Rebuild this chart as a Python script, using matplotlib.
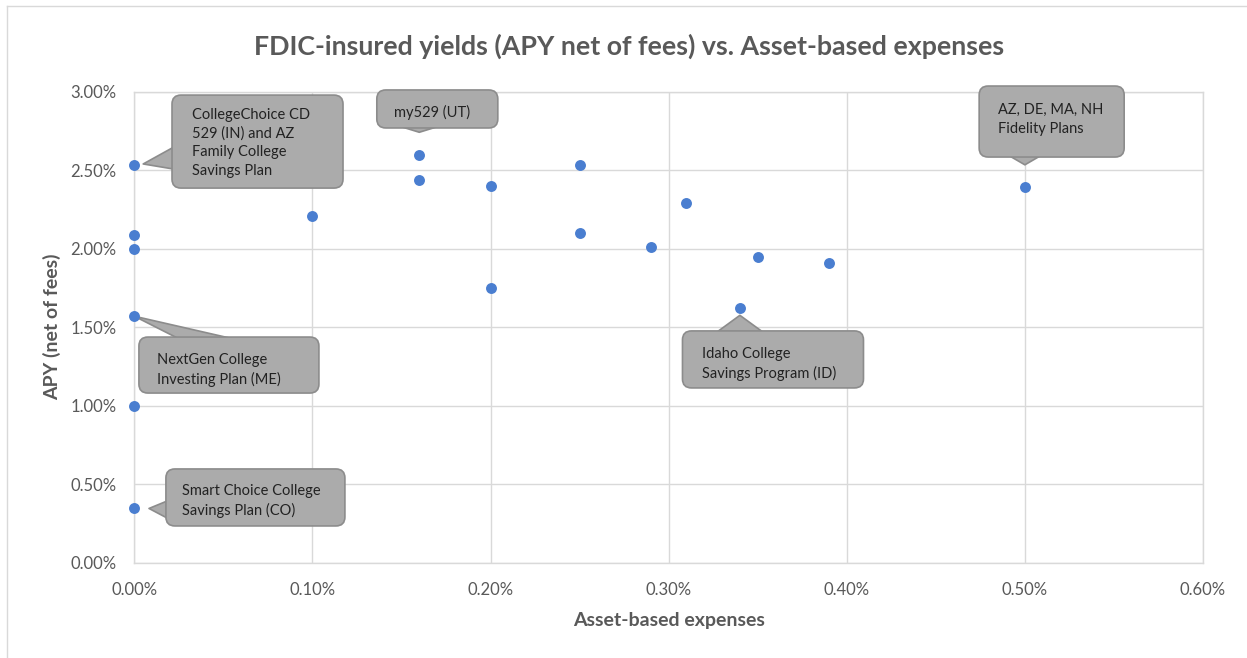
import matplotlib
matplotlib.use("Agg")
import matplotlib.pyplot as plt
from matplotlib.patches import BoxStyle, FancyArrowPatch
from matplotlib.lines import Line2D
from matplotlib.ticker import FuncFormatter, MultipleLocator

plt.rcParams['font.family'] = ['Lato', 'DejaVu Sans']

# asset-based expenses (%) and APY net of fees (%)
expenses = [0.00, 0.00, 0.00, 0.00, 0.00, 0.00, 0.10, 0.16, 0.16, 0.20,
            0.20, 0.25, 0.25, 0.29, 0.31, 0.34, 0.35, 0.39, 0.50]
apy = [2.53, 2.09, 2.00, 1.57, 1.00, 0.35, 2.21, 2.60, 2.44, 2.40,
       1.75, 2.53, 2.10, 2.01, 2.29, 1.62, 1.95, 1.91, 2.39]

callout_labels = [
    "CollegeChoice CD\n529 (IN) and AZ\nFamily College\nSavings Plan",
    "NextGen College\nInvesting Plan (ME)",
    "Smart Choice College\nSavings Plan (CO)",
    "my529 (UT)",
    "Idaho College\nSavings Program (ID)",
    "AZ, DE, MA, NH\nFidelity Plans",
]
callout_points = [0, 3, 5, 7, 15, 18]

# layout of the callouts: text anchor (left, middle), wedge start,
# gap to the point (pt), wedge width (px), box (left pad, w, h, dy) px
callout_text_xy = [(0.0324, 2.674), (0.0127, 1.229), (0.0269, 0.392),
                   (0.1457, 2.869), (0.3186, 1.268), (0.4850, 2.824)]
callout_start_xy = [(0.0319, 2.592), (0.0583, 1.331), (0.0256, 0.336),
                    (0.1600, 2.820), (0.3400, 1.399), (0.5000, 2.660)]
callout_gap = [6.5, 0, 10.6, 16, 5, 16.3]
callout_wedge = [33.9, 27, 29, 80, 76, 68]
callout_box = [(20, 171, 93, 1.3), (18, 180, 56, 4.7), (16.3, 179, 57, 3.7),
               (17, 121, 38, 3.3), (19.3, 181, 57, 4.2), (19, 145, 71, -2.2)]

GRID = '#d9d9d9'
TXT = '#595959'
BLUE = '#4a7ed0'
BOX_FC = '#ababab'
BOX_EC = '#8c8c8c'


def make_box(padl, bw, bh, dy, r=9):
    def style(x0, y0, width, height, mutation_size):
        bx = x0 - padl
        by = y0 + height / 2 + dy - bh / 2
        return BoxStyle.Round(pad=0., rounding_size=r / mutation_size)(
            bx, by, bw, bh, mutation_size)
    return style


fig = plt.figure(figsize=(12.47, 6.58), dpi=100)
ax = fig.add_axes([134.3 / 1247, 1 - 562.7 / 658, (1203 - 134.3) / 1247, 471 / 658])

ax.scatter(expenses, apy, s=62, color=BLUE, zorder=3, linewidths=0, clip_on=False)

ax.set_xlim(0, 0.6)
ax.set_ylim(0, 3.0)
ax.xaxis.set_major_locator(MultipleLocator(0.1))
ax.yaxis.set_major_locator(MultipleLocator(0.5))
ax.xaxis.set_major_formatter(FuncFormatter(lambda v, p: f"{v:.2f}%"))
ax.yaxis.set_major_formatter(FuncFormatter(lambda v, p: f"{v:.2f}%"))
ax.grid(True, color=GRID, linewidth=1)
ax.set_axisbelow(True)
for s in ax.spines.values():
    s.set_color(GRID)
    s.set_linewidth(1)
ax.tick_params(axis='x', length=0, pad=14, labelsize=12, labelcolor=TXT)
ax.tick_params(axis='y', length=0, pad=13, labelsize=12, labelcolor=TXT)

ax.set_xlabel("Asset-based expenses", fontsize=14, fontweight='bold', color=TXT)
ax.set_ylabel("APY (net of fees)", fontsize=14, fontweight='bold', color=TXT)
ax.xaxis.set_label_coords(0.5, -0.105)
ax.yaxis.set_label_coords(-0.0686, 0.5)

fig.text(629 / 1247, 1 - 46 / 658,
         "FDIC-insured yields (APY net of fees) vs. Asset-based expenses",
         ha='center', va='center', fontsize=19.3, fontweight='bold', color=TXT)

for i, label in enumerate(callout_labels):
    k = callout_points[i]
    w = callout_wedge[i] / (10 * 100 / 72)
    wedge = FancyArrowPatch(callout_start_xy[i], (expenses[k], apy[k]),
                            arrowstyle=f"wedge,tail_width={w:.3f},shrink_factor=0.5",
                            mutation_scale=10, shrinkA=0, shrinkB=callout_gap[i],
                            fc=BOX_FC, ec=BOX_EC, lw=1.2, zorder=2.5)
    ax.add_patch(wedge)
    tx, ty = callout_text_xy[i]
    ax.text(tx, ty, label, ha='left', va='center', fontsize=10.5,
            color='#222222', linespacing=1.42, zorder=5,
            bbox=dict(boxstyle=make_box(*callout_box[i]), fc=BOX_FC,
                      ec=BOX_EC, lw=1.2))

# outer chart frame (only top and left edges are in view)
fig.add_artist(Line2D([7 / 1247, 1], [1 - 6 / 658, 1 - 6 / 658],
                      transform=fig.transFigure, color=GRID, lw=1))
fig.add_artist(Line2D([7 / 1247, 7 / 1247], [0, 1 - 6 / 658],
                      transform=fig.transFigure, color=GRID, lw=1))

fig.savefig("out.png", dpi=100, facecolor='white')
